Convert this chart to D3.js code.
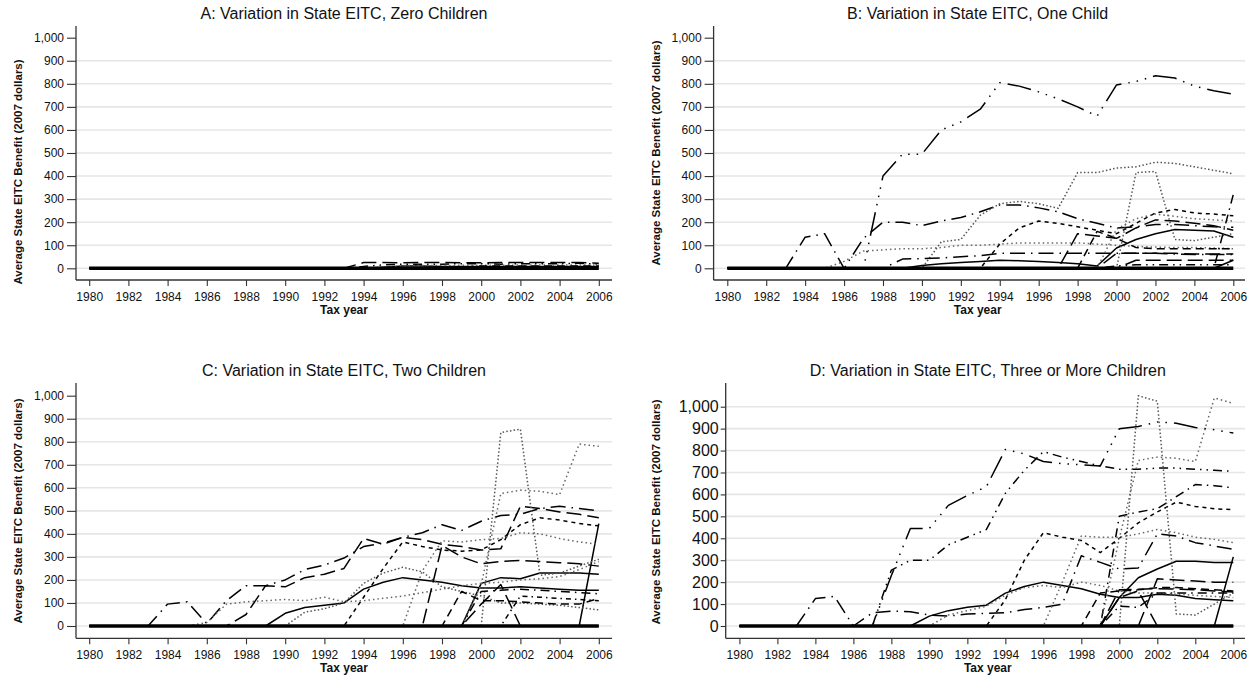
<!DOCTYPE html>
<html><head><meta charset="utf-8">
<script src="https://cdn.jsdelivr.net/npm/d3@7/dist/d3.min.js"></script>
<style>body{margin:0;background:#fff}svg{display:block}text{font-family:"Liberation Sans",Arial,Helvetica,sans-serif;fill:#111}</style>
</head><body><svg id="c" width="1247" height="678"></svg>
<script>
// ---------- categories / ticks ----------
const years = [1980,1981,1982,1983,1984,1985,1986,1987,1988,1989,1990,1991,1992,1993,1994,1995,1996,1997,1998,1999,2000,2001,2002,2003,2004,2005,2006];
const xTicks = [1980,1982,1984,1986,1988,1990,1992,1994,1996,1998,2000,2002,2004,2006];
const yTicks = [0,100,200,300,400,500,600,700,800,900,1000];
const titles = ["A: Variation in State EITC, Zero Children","B: Variation in State EITC, One Child","C: Variation in State EITC, Two Children","D: Variation in State EITC, Three or More Children"];
const yTitle = "Average State EITC Benefit (2007 dollars)";
const xTitle = "Tax year";

// states without a credit (many overlapping series at zero)
const noCredit = [0,0,0,0,0,0,0,0,0,0,0,0,0,0,0,0,0,0,0,0,0,0,0,0,0,0,0];

// ---------- Panel A: zero children ----------
const a1 = [0,0,0,0,0,0,0,0,0,0,0,0,0,0,25,25,24,25,25,24,24,25,25,25,25,25,22];
const a2 = [0,0,0,0,0,0,0,0,0,0,0,0,0,0,8,15,18,18,18,20,20,18,20,20,20,22,18];
const a3 = [0,0,0,0,0,0,0,0,0,0,0,0,0,0,0,5,10,10,8,8,8,8,8,8,8,8,8];
const a4 = [0,0,0,0,0,0,0,0,0,0,0,0,0,0,0,0,12,12,12,13,13,13,14,14,14,14,14];
const a5 = [0,0,0,0,0,0,0,0,0,0,0,0,0,0,0,0,0,0,0,5,10,10,10,10,10,10,10];

// ---------- Panel B: one child ----------
const b1 = [0,0,0,0,0,0,0,0,400,495,495,600,635,690,805,790,765,735,700,660,795,810,835,825,790,770,755];
const b2 = [0,0,0,0,135,150,0,130,200,200,185,205,220,245,275,275,262,245,215,195,175,180,190,190,185,180,178];
const b3 = [0,0,0,0,0,0,0,0,0,0,0,115,125,230,280,290,280,260,415,415,435,440,460,455,440,425,410];
const b4 = [0,0,0,0,0,0,30,75,80,85,85,90,100,100,105,110,110,110,110,105,100,95,92,90,90,88,85];
const b5 = [0,0,0,0,0,0,0,0,0,0,0,0,0,0,105,175,205,195,180,165,150,195,240,255,240,235,228];
const b6 = [0,0,0,0,0,0,0,0,0,40,42,45,50,55,65,65,65,65,65,65,65,65,65,62,60,60,60];
const b7 = [0,0,0,0,0,0,0,0,0,0,12,20,25,30,35,33,30,25,20,10,88,125,150,168,165,162,135];
const b8 = [0,0,0,0,0,0,0,0,0,0,0,0,0,0,0,0,0,0,150,140,130,175,210,205,195,185,165];
const b9 = [0,0,0,0,0,0,0,0,0,0,0,0,0,0,0,0,0,0,0,160,130,90,85,85,85,85,85];
const b10 = [0,0,0,0,0,0,0,0,0,0,0,0,0,0,0,0,0,0,0,0,0,415,420,125,120,135,150];
const b11 = [0,0,0,0,0,0,0,0,0,0,0,0,0,0,0,0,0,0,0,0,170,215,235,225,215,210,205];
const b12 = [0,0,0,0,0,0,0,0,0,0,0,0,0,0,0,0,0,0,0,0,0,0,0,0,0,0,35];
const b13 = [0,0,0,0,0,0,0,0,0,0,0,0,0,0,0,0,0,0,0,0,0,0,0,0,0,0,320];
const b14 = [0,0,0,0,0,0,0,0,0,0,0,0,0,0,0,0,0,0,0,0,0,35,35,35,35,35,35];
const b15 = [0,0,0,0,0,0,0,0,0,0,0,0,0,0,0,0,0,0,0,0,10,15,15,15,15,15,15];
const b16 = [0,0,0,0,0,0,0,0,0,0,0,0,0,0,0,0,0,0,0,0,65,65,65,65,62,62,62];

// ---------- Panel C: two children ----------
const c1 = [0,0,0,0,95,105,10,110,175,175,200,245,265,295,345,360,385,405,440,415,455,480,485,510,520,510,500];
const c2 = [0,0,0,0,0,0,0,0,50,175,170,210,225,250,380,355,385,375,355,345,330,335,520,510,495,485,470];
const c3 = [0,0,0,0,0,0,0,0,0,0,0,0,0,0,125,250,365,345,330,325,330,375,440,470,460,445,435];
const c4 = [0,0,0,0,0,0,0,0,0,0,55,80,90,100,160,190,210,200,190,175,165,165,170,165,160,155,155];
const c5 = [0,0,0,0,0,0,0,0,0,0,0,0,0,0,0,0,0,0,0,0,185,210,205,230,230,230,225];
const c6 = [0,0,0,0,0,0,0,0,0,0,0,0,0,0,0,0,0,0,0,0,0,0,0,0,0,0,445];
const c7 = [0,0,0,0,0,0,15,95,105,110,115,110,125,105,110,120,130,145,160,175,185,190,200,205,215,245,280];
const c8 = [0,0,0,0,0,0,0,0,0,0,0,60,75,100,185,230,255,235,170,150,130,100,100,95,90,80,70];
const c9 = [0,0,0,0,0,0,0,0,0,0,0,0,0,0,0,0,0,240,370,365,375,380,405,400,380,365,355];
const c10 = [0,0,0,0,0,0,0,0,0,0,0,0,0,0,0,0,0,0,0,0,0,840,855,220,230,260,290];
const c11 = [0,0,0,0,0,0,0,0,0,0,0,0,0,0,0,0,0,0,0,0,180,575,590,585,570,790,780];
const c12 = [0,0,0,0,0,0,0,0,0,0,0,0,0,0,0,0,0,0,350,300,270,280,285,280,275,270,260];
const c13 = [0,0,0,0,0,0,0,0,0,0,0,0,0,0,0,0,0,0,0,150,110,110,105,100,95,95,120];
const c14 = [0,0,0,0,0,0,0,0,0,0,0,0,0,0,0,0,0,0,0,0,150,155,160,155,150,145,140];
const c15 = [0,0,0,0,0,0,0,0,0,0,0,0,0,0,0,0,0,0,0,0,0,0,130,125,120,115,110];
const c16 = [0,0,0,0,0,0,0,0,0,0,0,0,0,0,0,0,0,0,0,0,95,180,0,0,0,0,0];

// ---------- Panel D: three or more children ----------
const m1 = [0,0,0,0,0,0,0,0,230,445,445,550,595,635,805,785,750,740,735,730,900,910,930,925,905,895,880];
const m2 = [0,0,0,0,0,0,0,0,255,300,300,370,405,440,605,710,795,770,750,730,715,715,720,720,715,710,705];
const m3 = [0,0,0,0,125,135,0,60,68,65,50,45,55,58,60,75,85,100,320,290,260,265,420,410,380,365,350];
const m4 = [0,0,0,0,0,0,0,0,0,0,0,0,0,0,120,300,425,405,390,335,400,470,520,565,545,535,530];
const m5 = [0,0,0,0,0,0,0,0,0,0,0,0,0,0,0,0,0,0,0,0,500,520,535,590,645,640,630];
const m6 = [0,0,0,0,0,0,0,0,0,0,45,70,85,95,150,180,200,185,170,145,130,130,145,140,125,120,115];
const m7 = [0,0,0,0,0,0,0,0,0,0,0,0,0,0,0,0,0,0,0,0,130,220,260,295,295,290,290];
const m8 = [0,0,0,0,0,0,0,0,0,0,0,0,0,0,0,0,0,0,0,0,0,0,0,0,0,0,315];
const m9 = [0,0,0,0,0,0,0,0,0,0,0,50,70,90,140,175,185,175,200,185,160,150,150,145,140,135,130];
const m10 = [0,0,0,0,0,0,0,0,0,0,0,0,0,0,0,0,0,200,410,405,405,420,440,425,405,395,380];
const m11 = [0,0,0,0,0,0,0,0,0,0,0,0,0,0,0,0,0,0,0,0,0,1050,1025,55,50,100,150];
const m12 = [0,0,0,0,0,0,0,0,0,0,0,0,0,0,0,0,0,0,0,0,400,755,770,765,750,1040,1015];
const m13 = [0,0,0,0,0,0,0,0,0,0,0,0,0,0,0,0,0,0,0,0,165,168,170,168,165,160,155];
const m14 = [0,0,0,0,0,0,0,0,0,0,0,0,0,0,0,0,0,0,0,0,0,0,215,210,205,200,200];
const m15 = [0,0,0,0,0,0,0,0,0,0,0,0,0,0,0,0,0,0,0,0,90,85,150,150,150,150,150];
const m16 = [0,0,0,0,0,0,0,0,0,0,0,0,0,0,0,0,0,0,0,0,130,160,0,0,0,0,0];
const m17 = [0,0,0,0,0,0,0,0,0,0,0,0,0,0,0,0,0,0,0,150,160,165,175,175,170,165,160];

const seriesA = [a1,a2,a3,a4,a5];
const seriesB = [b1,b2,b3,b4,b5,b6,b7,b8,b9,b10,b11,b12,b13,b14,b15,b16];
const seriesC = [c1,c2,c3,c4,c5,c6,c7,c8,c9,c10,c11,c12,c13,c14,c15,c16];
const seriesD = [m1,m2,m3,m4,m5,m6,m7,m8,m9,m10,m11,m12,m13,m14,m15,m16,m17];

// ---------- styles (kept apart from data) ----------
const patternsA = ["longdash","dash_dot_dot","solid","dot","dash"];
const patternsB = ["longdash_3dot","longdash_dot","tight_dot","dot","vshortdash","longdash_dot","solid","longdash","dash","tight_dot","dot","solid","dash_dot","longdash","dash_dot_dot","longdash"];
const patternsC = ["longdash_dot","longdash","vshortdash","solid","solid","solid","dot","tight_dot","dot","tight_dot","dot","longdash","dash","dash_dot","shortdash_dot","longdash"];
const patternsD = ["longdash_3dot","dash_dot_dot","longdash_dot","vshortdash","dash_dot","solid","solid","solid","dot","dot","tight_dot","dot","longdash","longdash","dash_dot","longdash","dash"];

const patternStyle = {
  solid:{c:"#000",d:null},
  dash:{c:"#000",d:"8,5"},
  vshortdash:{c:"#000",d:"4,4"},
  longdash:{c:"#000",d:"15,6"},
  longdash_dot:{c:"#000",d:"15,6,1.5,6"},
  dash_dot:{c:"#000",d:"9,5,1.5,5"},
  shortdash_dot:{c:"#000",d:"5,4,1.5,4"},
  dash_dot_dot:{c:"#000",d:"9,5,1.5,5,1.5,5"},
  longdash_3dot:{c:"#000",d:"24,7,1.5,7,1.5,7,1.5,7"},
  dot:{c:"#666",d:"1.5,3"},
  tight_dot:{c:"#555",d:"1.5,2.2"}
};

const layout = [
  {xl:89.2,xr:598.8,y0:268.3,y1:37.7,ax:76,top:26,bot:280,right:612,tx:344,ty:18.5,ytx:18,yty:172,yf:12,ytick:9,ypad:3,gridMax:900},
  {xl:727.3,xr:1233.3,y0:268.3,y1:37.7,ax:713.6,top:26,bot:280,right:1245,tx:977.7,ty:18.5,ytx:656,yty:153,yf:12,ytick:9,ypad:3,gridMax:900},
  {xl:89.2,xr:598.8,y0:626,y1:395.7,ax:76,top:383,bot:638.3,right:612,tx:344,ty:375.5,ytx:18,yty:511,yf:12,ytick:9,ypad:3,gridMax:900},
  {xl:739.4,xr:1233.3,y0:626,y1:406.7,ax:725.7,top:383,bot:638.3,right:1245,tx:987.8,ty:375.5,ytx:656,yty:512,yf:16,ytick:5,ypad:2,gridMax:1000}
];

const svg = d3.select("#c");
const allSeries = [seriesA,seriesB,seriesC,seriesD];
const allPatterns = [patternsA,patternsB,patternsC,patternsD];

layout.forEach((L, p) => {
  const g = svg.append("g");
  const x = d3.scaleLinear().domain([1980,2006]).range([L.xl, L.xr]);
  const y = d3.scaleLinear().domain([0,1000]).range([L.y0, L.y1]);

  g.append("g").selectAll("line").data(yTicks.filter(v => v <= L.gridMax)).join("line")
    .attr("x1", L.ax).attr("x2", L.right).attr("y1", d => y(d)).attr("y2", d => y(d))
    .attr("stroke", "#e6e6e6").attr("stroke-width", 1.6);

  const ya = g.append("g").attr("transform", `translate(${L.ax},0)`)
    .call(d3.axisLeft(y).tickValues(yTicks).tickFormat(d3.format(",")).tickSize(L.ytick).tickPadding(L.ypad));
  ya.select(".domain").remove();
  ya.selectAll(".tick line").attr("stroke", "#333").attr("stroke-width", 1.1);
  ya.selectAll(".tick text").attr("font-size", L.yf).attr("fill", "#111")
    .style("font-family", '"Liberation Sans",Arial,sans-serif');

  const xa = g.append("g").attr("transform", `translate(0,${L.bot})`)
    .call(d3.axisBottom(x).tickValues(xTicks).tickFormat(d3.format("d")).tickSize(6).tickPadding(6));
  xa.select(".domain").remove();
  xa.selectAll(".tick line").attr("stroke", "#333").attr("stroke-width", 1.1);
  xa.selectAll(".tick text").attr("font-size", 12).attr("fill", "#111")
    .style("font-family", '"Liberation Sans",Arial,sans-serif');

  g.append("line").attr("x1", L.ax).attr("x2", L.ax).attr("y1", L.top).attr("y2", L.bot)
    .attr("stroke", "#333").attr("stroke-width", 1.3);
  g.append("line").attr("x1", L.ax).attr("x2", L.right).attr("y1", L.bot).attr("y2", L.bot)
    .attr("stroke", "#333").attr("stroke-width", 1.3);

  const line = d3.line().x((d, i) => x(years[i])).y(d => y(d));
  const ser = allSeries[p], pats = allPatterns[p];
  ser.forEach((s, i) => {
    const st = patternStyle[pats[i]];
    g.append("path").attr("d", line(s)).attr("fill", "none")
      .attr("stroke", st.c).attr("stroke-width", 1.5)
      .attr("stroke-dasharray", st.d).attr("stroke-linejoin", "round");
  });
  g.append("path").attr("d", line(noCredit)).attr("fill", "none")
    .attr("stroke", "#000").attr("stroke-width", 3.6);

  g.append("text").attr("x", L.tx).attr("y", L.ty).attr("text-anchor", "middle")
    .attr("font-size", 16).text(titles[p]);
  g.append("text").attr("x", L.tx).attr("y", L.bot + 34).attr("text-anchor", "middle")
    .attr("font-size", 12).attr("font-weight", "bold").text(xTitle);
  g.append("text").attr("transform", `translate(${L.ytx + 4},${L.yty}) rotate(-90)`)
    .attr("text-anchor", "middle").attr("font-size", 11.5).attr("font-weight", "bold").text(yTitle);
});
</script></body></html>
